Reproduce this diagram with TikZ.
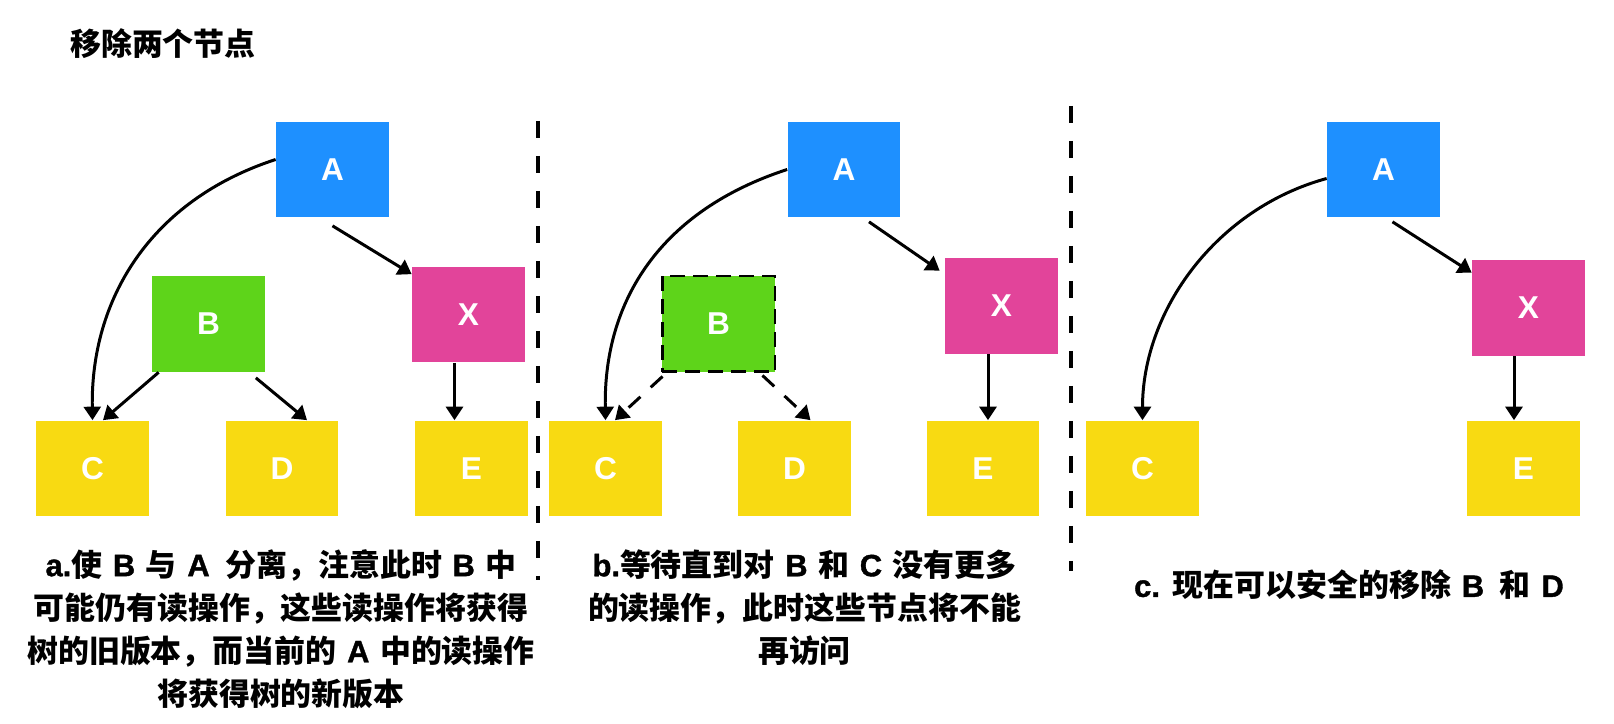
\documentclass[tikz,border=0pt]{standalone}
\usepackage{fontspec}
\setmainfont{Liberation Sans}
\newfontfamily\cjk{Noto Sans CJK SC}[WordSpace=1.5]
\newfontfamily\latin{Liberation Sans}[BoldFeatures={FakeBold=1.2}]
\usetikzlibrary{arrows.meta}
\definecolor{nodeblue}{RGB}{30,144,255}
\definecolor{nodegreen}{RGB}{94,212,26}
\definecolor{nodepink}{RGB}{226,68,154}
\definecolor{nodeyellow}{RGB}{248,218,18}
\newcommand\lat[1]{{\latin\bfseries #1}}
\tikzset{
  box/.style={minimum width=2.26cm,minimum height=1.92cm,inner sep=0pt,
    text=white,font=\bfseries\fontsize{18}{18}\selectfont},
  link/.style={line width=1.7pt,-{Triangle[length=0.27cm,width=0.34cm]}},
  note/.style={align=center,font=\cjk\bfseries\fontsize{17.6}{24.5}\selectfont},
  split/.style={line width=1.8pt,dash pattern=on 0.34cm off 0.36cm},
}
\begin{document}
\begin{tikzpicture}[x=0.02cm,y=0.02cm]
  \useasboundingbox (0,0) rectangle (1614,724);
  \node[note,anchor=west] (title) at (64,680) {移除两个节点};

  % a
  \node[box,fill=nodeblue]   (A1) at (332.5,554.5) {A};
  \node[box,fill=nodegreen]  (B1) at (208.5,400) {B};
  \node[box,fill=nodepink]   (X1) at (468.5,409.5) {X};
  \node[box,fill=nodeyellow] (C1) at (92.5,255.5) {C};
  \node[box,fill=nodeyellow] (D1) at (282,255.5) {D};
  \node[box,fill=nodeyellow] (E1) at (471.5,255.5) {E};
  \draw[link] ([yshift=0.2cm]A1.west) .. controls +(-126,-41) and +(-2,120) .. (C1.north);
  \draw[link] ([yshift=-0.16cm]A1.south) -- ([yshift=-0.16cm]X1.north west);
  \draw[link] ([xshift=0.14cm]B1.south west) -- ([xshift=0.21cm]C1.north);
  \draw[link] ([shift={(-0.19cm,-0.11cm)}]B1.south east) -- ([xshift=0.5cm]D1.north);
  \draw[link] ([xshift=-0.28cm]X1.south) -- ([xshift=-0.28cm]X1.south |- E1.north);
  \node[note] (capa) at (281,95) {\lat{a.}使 \lat{B} 与 \lat{A}\, 分离，注意此时 \lat{B} 中\\
    可能仍有读操作，这些读操作将获得\\树的旧版本，而当前的 \lat{A} 中的读操作\\将获得树的新版本};

  \draw[split] (538,603) -- (538,144);

  % b
  \node[box,fill=nodeblue]   (A2) at (844,554.5) {A};
  \node[box,fill=nodegreen,draw=black,line width=1.7pt,
    dash pattern=on 0.3cm off 0.16cm] (B2) at (718.5,400) {B};
  \node[box,fill=nodepink]   (X2) at (1001.5,418) {X};
  \node[box,fill=nodeyellow] (C2) at (605.5,255.5) {C};
  \node[box,fill=nodeyellow] (D2) at (794.5,255.5) {D};
  \node[box,fill=nodeyellow] (E2) at (983,255.5) {E};
  \draw[link] (A2.west) .. controls +(-126,-41) and +(-2,120) .. (C2.north);
  \draw[link] ([shift={(0.5cm,-0.08cm)}]A2.south) -- ([shift={(-0.1cm,-0.26cm)}]X2.north west);
  \draw[link,dash pattern=on 0.32cm off 0.28cm] ([shift={(0.04cm,-0.06cm)}]B2.south west) -- ([xshift=0.19cm]C2.north);
  \draw[link,dash pattern=on 0.32cm off 0.28cm] ([shift={(-0.28cm,-0.04cm)}]B2.south east) -- ([xshift=0.32cm]D2.north);
  \draw[link] ([xshift=-0.27cm]X2.south) -- ([xshift=-0.27cm]X2.south |- E2.north);
  \node[note] (capb) at (804.5,116.5) {\lat{b.}等待直到对 \lat{B} 和 \lat{C} 没有更多\\
    的读操作，此时这些节点将不能\\再访问};

  \draw[split] (1071,618) -- (1071,153);

  % c
  \node[box,fill=nodeblue]   (A3) at (1383.5,554.5) {A};
  \node[box,fill=nodepink]   (X3) at (1528.5,416) {X};
  \node[box,fill=nodeyellow] (C3) at (1142.5,255.5) {C};
  \node[box,fill=nodeyellow] (E3) at (1523.5,255.5) {E};
  \draw[link] ([yshift=-0.18cm]A3.west) .. controls +(-110,-30) and +(0,110) .. (C3.north);
  \draw[link] ([shift={(0.18cm,-0.08cm)}]A3.south) -- ([yshift=-0.26cm]X3.north west);
  \draw[link] ([xshift=-0.29cm]X3.south) -- ([xshift=-0.29cm]X3.south |- E3.north);
  \node[note] (capc) at (1349,139) {\lat{c.} 现在可以安全的移除 \lat{B}\, 和 \lat{D}};
\end{tikzpicture}
\end{document}
